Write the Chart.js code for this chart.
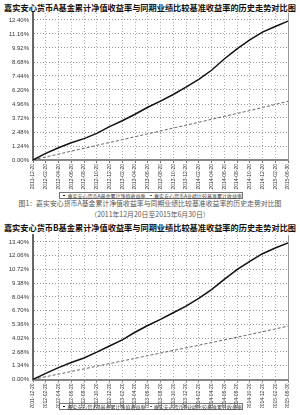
<!DOCTYPE html>
<html>
<head>
<meta charset="utf-8">
<script src="https://cdn.jsdelivr.net/npm/chart.js@4.4.0/dist/chart.umd.min.js"></script>
<style>
  html,body{margin:0;padding:0;background:#fff;}
  body{width:300px;height:415px;position:relative;overflow:hidden;font-family:"Noto Sans CJK SC","Noto Sans",sans-serif;}
  .abs{position:absolute;white-space:nowrap;}
  .ttl{font-weight:bold;font-size:8.2px;line-height:9px;color:#111;left:0;width:300px;text-align:center;}
  .cap{font-size:6.9px;line-height:8px;color:#555;left:0;width:300px;text-align:center;}
  .lg{border:1px solid #777;height:6px;display:flex;align-items:center;font-size:5px;line-height:6px;color:#333;box-sizing:border-box;}
  .lg span.l{display:inline-block;width:7px;height:0;margin:0 2px 0 3px;}
  canvas{position:absolute;left:0;}
</style>
</head>
<body>
<div class="abs ttl" style="top:3px">嘉实安心货币A基金累计净值收益率与同期业绩比较基准收益率的历史走势对比图</div>
<canvas id="c1" width="300" height="190" style="top:0"></canvas>
<div class="abs lg" style="left:59px;top:192px;width:184px;height:7px;">
  <span class="l" style="border-top:1px solid #111"></span><span>嘉实安心货币A基金累计净值收益率</span>
  <span class="l" style="border-top:1px dashed #666;margin-left:4px"></span><span>嘉实安心货币A业绩比较基准累计收益率</span>
</div>
<div class="abs cap" style="top:199px">图1：嘉实安心货币A基金累计净值收益率与同期业绩比较基准收益率的历史走势对比图</div>
<div class="abs cap" style="top:210px">（2011年12月20日至2015年6月30日）</div>
<div class="abs ttl" style="top:223px">嘉实安心货币B基金累计净值收益率与同期业绩比较基准收益率的历史走势对比图</div>
<canvas id="c2" width="300" height="186" style="top:222px"></canvas>
<div class="abs lg" style="left:59px;top:403px;width:184px;height:7px;">
  <span class="l" style="border-top:1px solid #111"></span><span>嘉实安心货币B基金累计净值收益率</span>
  <span class="l" style="border-top:1px dashed #666;margin-left:4px"></span><span>嘉实安心货币B业绩比较基准累计收益率</span>
</div>
<script>
const xLabels = ['2011-12-20','2012-02-20','2012-04-20','2012-06-20','2012-08-20','2012-10-20','2012-12-20','2013-02-20','2013-04-20','2013-06-20','2013-08-20','2013-10-20','2013-12-20','2014-02-20','2014-04-20','2014-06-20','2014-08-20','2014-10-20','2014-12-20','2015-02-20','2015-06-30'];
const fundA = [0, 0.59, 1.09, 1.53, 1.89, 2.36, 2.95, 3.48, 4.05, 4.67, 5.22, 5.80, 6.45, 7.15, 7.95, 8.95, 9.85, 10.63, 11.33, 11.82, 12.30];
const benchA = [0, 0.27, 0.52, 0.78, 1.03, 1.30, 1.55, 1.80, 2.06, 2.32, 2.57, 2.83, 3.08, 3.34, 3.60, 3.86, 4.12, 4.38, 4.65, 4.92, 5.20];
const fundB = [0, 0.60, 1.16, 1.66, 2.10, 2.66, 3.26, 3.86, 4.60, 5.26, 5.85, 6.50, 7.15, 7.90, 8.75, 9.75, 10.70, 11.50, 12.25, 12.80, 13.30];
const benchB = [0, 0.27, 0.52, 0.78, 1.03, 1.30, 1.55, 1.80, 2.06, 2.32, 2.57, 2.83, 3.08, 3.34, 3.60, 3.86, 4.12, 4.38, 4.65, 4.92, 5.20];
const topTicks = [0, 1.24, 2.48, 3.72, 4.96, 6.20, 7.44, 8.68, 9.92, 11.16, 12.40];
const bottomTicks = [0, 1.34, 2.68, 4.02, 5.36, 6.70, 8.04, 9.38, 10.72, 12.06, 13.40];

const rightEdge = {
  id: 'rightEdge',
  afterDatasetsDraw(chart) {
    const a = chart.chartArea, ctx = chart.ctx;
    ctx.save();
    ctx.strokeStyle = '#999';
    ctx.lineWidth = 1;
    ctx.beginPath();
    ctx.moveTo(Math.round(a.right) + 0.5, a.top);
    ctx.lineTo(Math.round(a.right) + 0.5, a.bottom);
    ctx.stroke();
    ctx.restore();
  }
};

function makeChart(id, fund, bench, ticks, yMax, padTop, xHeight) {
  return new Chart(document.getElementById(id), {
    type: 'line',
    data: {
      labels: xLabels,
      datasets: [
        { data: fund, borderColor: '#111', borderWidth: 1.5, pointRadius: 0, tension: 0, fill: false },
        { data: bench, borderColor: '#666', borderWidth: 1, borderDash: [3, 2], pointRadius: 0, tension: 0, fill: false }
      ]
    },
    options: {
      responsive: false,
      animation: false,
      devicePixelRatio: 1,
      layout: { padding: { top: padTop, right: 12, bottom: 0, left: 0 } },
      plugins: { legend: { display: false }, title: { display: false }, tooltip: { enabled: false } },
      scales: {
        x: {
          type: 'category',
          offset: false,
          grid: { color: '#aaa', lineWidth: 1, drawTicks: true, tickLength: 3, tickColor: '#777' },
          border: { display: true, color: '#888', width: 2, dash: [1, 2] },
          ticks: { autoSkip: false, maxRotation: 90, minRotation: 90, font: { size: 5, family: 'Liberation Sans' }, color: '#333', padding: 1 },
          afterFit(s) { s.height = xHeight; }
        },
        y: {
          min: 0, max: yMax,
          afterBuildTicks(s) { s.ticks = ticks.map(v => ({ value: v })); },
          grid: { color: '#999', drawTicks: false },
          border: { display: true, color: '#666', width: 2, dash: [1, 2] },
          ticks: { callback: v => v.toFixed(2) + '%', font: { size: 6, family: 'Liberation Sans' }, color: '#333', padding: 4 },
          afterFit(s) { s.width = 33; }
        }
      }
    },
    plugins: [rightEdge]
  });
}

makeChart('c1', fundA, benchA, topTicks, 13.02, 13, 30);
makeChart('c2', fundB, benchB, bottomTicks, 14.07, 13, 28.5);
</script>
</body>
</html>
